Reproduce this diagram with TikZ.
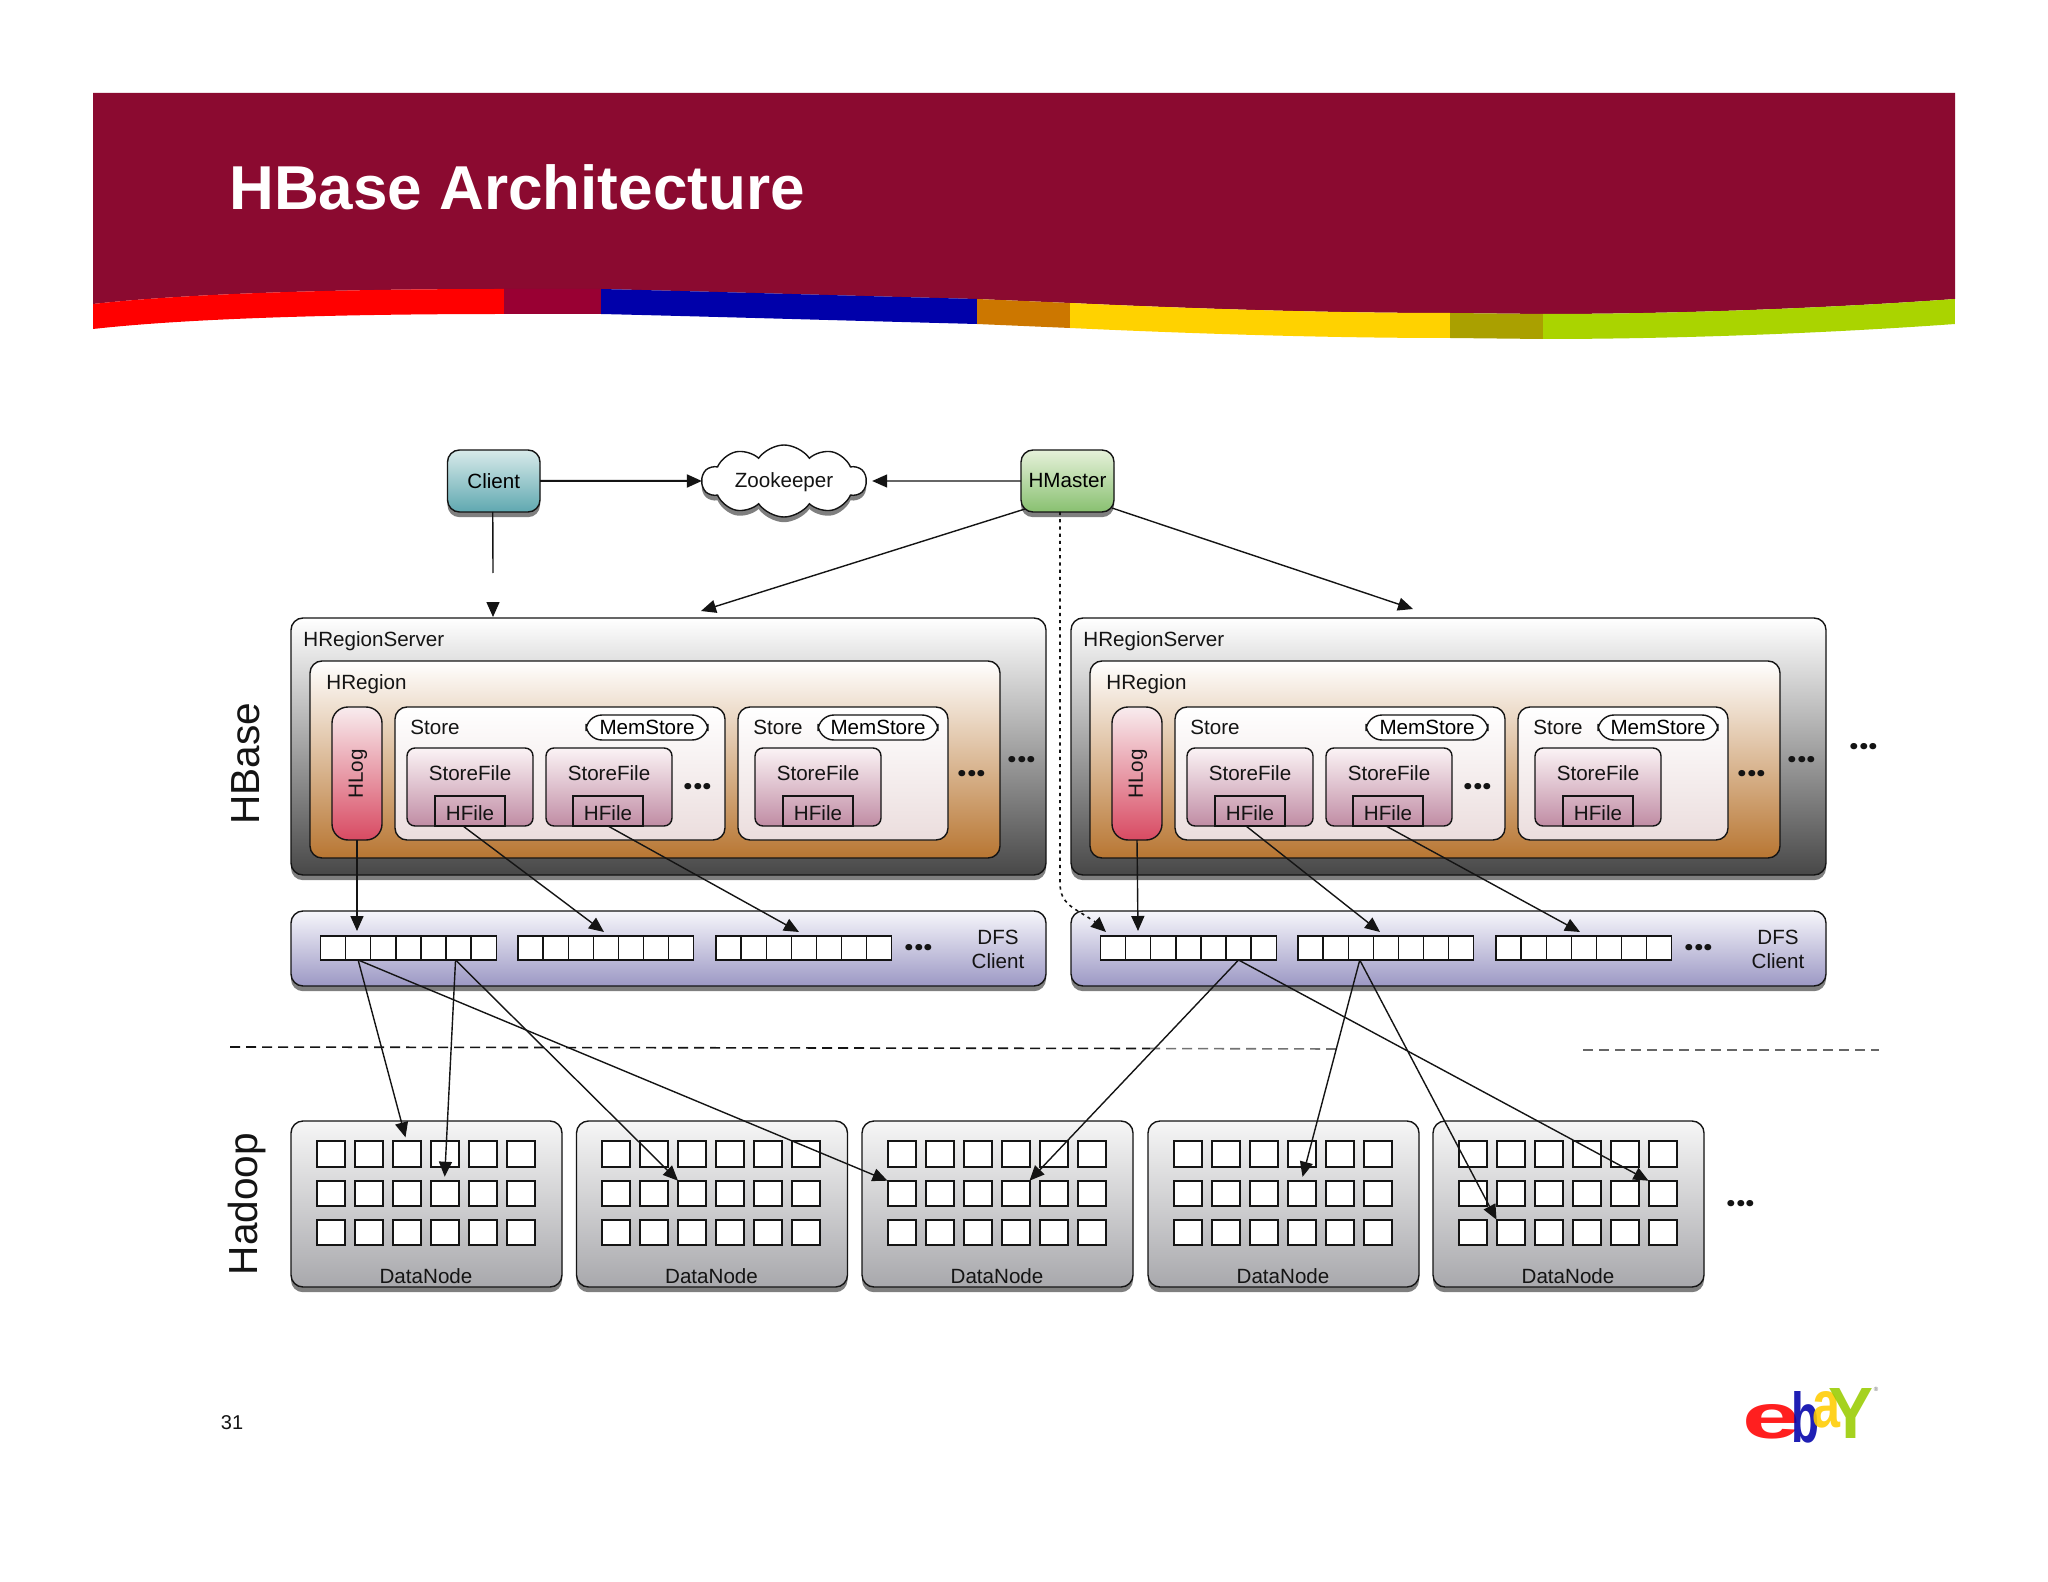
\documentclass[tikz,border=0pt]{standalone}
\usepackage{fontspec}
\usepackage{graphicx}
\setmainfont{Liberation Sans}
\newfontfamily\dotfont{Poppins}
\usetikzlibrary{arrows.meta,shadows,shapes.symbols}
\definecolor{banner}{HTML}{8B0A30}
\definecolor{inkc}{HTML}{141414}
\definecolor{wmag}{HTML}{990033}
\definecolor{wblue}{HTML}{0000AA}
\definecolor{worange}{HTML}{CC7700}
\definecolor{wyellow}{HTML}{FFD200}
\definecolor{wolive}{HTML}{AAA000}
\definecolor{wgreen}{HTML}{AAD400}
\definecolor{logoy}{HTML}{FFCC00}
\definecolor{logog}{HTML}{99CC00}
\definecolor{ctop}{HTML}{D8EAEA}\definecolor{cbot}{HTML}{5FA8B0}
\definecolor{mtop}{HTML}{E6F1DA}\definecolor{mbot}{HTML}{88C070}
\definecolor{ltop}{HTML}{F8ECEE}\definecolor{lbot}{HTML}{D84A62}
\definecolor{ftop}{HTML}{FBF3F5}\definecolor{fbot}{HTML}{C08CA4}
\definecolor{stbot}{HTML}{EBDDDD}
\definecolor{rbot}{HTML}{B87632}
\definecolor{dfstop}{HTML}{F6F6FB}\definecolor{dfsbot}{HTML}{9C98C4}
\definecolor{dntop}{HTML}{F6F6F6}\definecolor{dnbot}{HTML}{A8A8AC}
\newcommand{\rbox}[7]{%
  \pgfmathsetmacro\boxw{(#5-#3)*0.5}\pgfmathsetmacro\boxh{(#6-#4)*0.5}%
  \node[#2,minimum width=\boxw pt,minimum height=\boxh pt] (#1) at ({(#3+#5)/2},{(#4+#6)/2}) {#7};}
\tikzset{
  base/.style={draw=inkc,inner sep=0pt,outer sep=0pt,line width=0.7pt,font=\fontsize{10.3}{12}\selectfont},
  shade/.style={drop shadow={shadow xshift=0pt,shadow yshift=-2.6pt,fill=black,opacity=.5}},
  server/.style={base,rounded corners=6pt,shade,top color=white,middle color=black!32,bottom color=black!72},
  region/.style={base,rounded corners=6pt,top color=white,bottom color=rbot},
  storebox/.style={base,rounded corners=6pt,top color=white,bottom color=stbot},
  hlogbox/.style={base,rounded corners=8pt,top color=ltop,bottom color=lbot},
  filebox/.style={base,rounded corners=4pt,top color=ftop,bottom color=fbot},
  hfilebox/.style={base},
  memstore/.style={base,rounded corners=8pt,fill=white},
  dfs/.style={base,rounded corners=6pt,shade,top color=dfstop,bottom color=dfsbot},
  cellb/.style={base,fill=white,minimum width=12.55pt,minimum height=12pt},
  datanode/.style={base,rounded corners=6pt,shade,top color=dntop,bottom color=dnbot},
  cellc/.style={base,fill=white,line width=1pt,minimum width=14pt,minimum height=12.8pt},
  client/.style={base,rounded corners=6pt,shade,top color=ctop,bottom color=cbot},
  master/.style={base,rounded corners=6pt,shade,top color=mtop,bottom color=mbot},
  zk/.style={base,cloud,cloud puffs=10,cloud puff arc=110,aspect=2.2,fill=white,minimum width=82pt,minimum height=36pt,shade},
  lbl/.style={font=\fontsize{10.3}{12}\selectfont,inner sep=0pt,text=inkc},
  lbll/.style={lbl,anchor=west},
  side/.style={font=\fontsize{20.3}{24}\selectfont,inner sep=0pt,rotate=90,text=inkc},
  dots/.style={font=\dotfont\bfseries\fontsize{17}{17}\selectfont,inner sep=0pt,text=inkc},
  conn/.style={draw=inkc,line width=0.7pt,-{Triangle[length=7.5pt,width=6.5pt]}},
  plainline/.style={draw=inkc,line width=0.7pt},
  splitline/.style={line width=0.8pt,dash pattern=on 5pt off 3pt},
  logot/.style={inner sep=0pt,font=\bfseries,text opacity=.88}
}
\begin{document}
\begin{tikzpicture}[x=0.5pt,y=-0.5pt]
\useasboundingbox (0,0) rectangle (2048,1582);
\fill[white] (0,0) rectangle (2048,1582);
% banner
\fill[banner] (93,93) -- (1955,93) -- (1955,299)
  .. controls (1830,308) and (1680,314) .. (1543,314) -- (1450,313)
  .. controls (1330,313) and (1200,309) .. (1070,303) -- (977,299)
  .. controls (860,296) and (725,292) .. (601,289) -- (504,289)
  .. controls (370,289) and (200,292) .. (93,304) -- cycle;
\begin{scope}
\clip (93,304) .. controls (200,292) and (370,289) .. (504,289) -- (601,289)
  .. controls (725,292) and (860,296) .. (977,299) -- (1070,303)
  .. controls (1200,309) and (1330,313) .. (1450,313) -- (1543,314)
  .. controls (1680,314) and (1830,308) .. (1955,299) -- (1955,324)
  .. controls (1830,333) and (1680,339) .. (1543,339) -- (1450,338)
  .. controls (1330,338) and (1200,334) .. (1070,328) -- (977,324)
  .. controls (860,321) and (725,317) .. (601,314) -- (504,314)
  .. controls (370,314) and (200,317) .. (93,329) -- cycle;
\fill[red] (93,280) rectangle (504,345);
\fill[wmag] (504,280) rectangle (601,345);
\fill[wblue] (601,280) rectangle (977,345);
\fill[worange] (977,280) rectangle (1070,345);
\fill[wyellow] (1070,280) rectangle (1450,345);
\fill[wolive] (1450,280) rectangle (1543,345);
\fill[wgreen] (1543,280) rectangle (1955,345);
\end{scope}
\node[anchor=base west,inner sep=0pt,text=white,font=\bfseries\fontsize{31}{36}\selectfont] (title) at (229,210) {HBase Architecture};
% side labels
\node[side] (hbaselabel) at (246,764) {HBase};
\node[side] (hadooplabel) at (247,1204) {Hadoop};
% top
\rbox{client}{client}{447.5}{450}{540}{512}{Client}
\rbox{hmaster}{master}{1021}{450}{1114}{512}{HMaster}
\node[zk] (zookeeper) at (784,481) {};
\node[lbl] (zklabel) at (784,482) {Zookeeper};
% servers
\foreach \s/\o in {1/0,2/390}{
\begin{scope}[xshift=\o pt]
\rbox{hrs\s}{server}{291}{618}{1046}{875}{}
\node[lbll] (hrsl\s) at (303,641) {HRegionServer};
\rbox{hreg\s}{region}{310}{661}{1000}{858}{}
\node[lbll] (hregl\s) at (326,684) {HRegion};
\rbox{hlog\s}{hlogbox}{332}{707}{382}{840}{}
\node[lbl,rotate=90] (hlogl\s) at (358,774) {HLog};
\rbox{sa\s}{storebox}{395}{707}{725}{840}{}
\node[lbll] (sal\s) at (410,727) {Store};
\rbox{ma\s}{memstore}{586}{715}{708}{740}{MemStore}
\rbox{fa\s}{filebox}{407}{748}{533}{826}{}
\node[lbl] (fal\s) at (470,773) {StoreFile};
\rbox{ha\s}{hfilebox}{435}{796}{505}{826}{}
\node[lbl] (hal\s) at (470,813) {HFile};
\rbox{fb\s}{filebox}{546}{748}{672}{826}{}
\node[lbl] (fbl\s) at (609,773) {StoreFile};
\rbox{hb\s}{hfilebox}{573}{796}{643}{826}{}
\node[lbl] (hbl\s) at (608,813) {HFile};
\node[dots] (da\s) at (698,787) {...};
\rbox{sb\s}{storebox}{738}{707}{948}{840}{}
\node[lbll] (sbl\s) at (753,727) {Store};
\rbox{mb\s}{memstore}{818}{715}{938}{740}{MemStore}
\rbox{fc\s}{filebox}{755}{748}{881}{826}{}
\node[lbl] (fcl\s) at (818,773) {StoreFile};
\rbox{hc\s}{hfilebox}{783}{796}{853}{826}{}
\node[lbl] (hcl\s) at (818,813) {HFile};
\node[dots] (db\s) at (972,774) {...};
\node[dots] (dc\s) at (1022,760) {...};
% DFS
\rbox{dfs\s}{dfs}{291}{911}{1046}{986}{}
\foreach \r/\rx in {1/320.5,2/518,3/716}{
  \foreach \i in {1,...,7}{
    \pgfmathsetmacro\cx{\rx+12.55+25.1*(\i-1)}
    \node[cellb] (b\s r\r c\i) at (\cx,948) {};
  }
}
\node[dots] (dd\s) at (919,948) {...};
\node[lbl] (dfsl\s) at (998,937) {DFS};
\node[lbl] (dfsm\s) at (998,961) {Client};
\end{scope}
}
\node[dots] (dothrs) at (1864,747) {...};
% datanodes
\foreach \n/\o in {1/0,2/285.5,3/571,4/857,5/1142}{
  \pgfmathsetmacro\xa{291+\o}\pgfmathsetmacro\xb{562+\o}
  \rbox{dn\n}{datanode}{\xa}{1121}{\xb}{1287}{}
  \pgfmathsetmacro\tx{426+\o}
  \node[lbl] (dnl\n) at (\tx,1276) {DataNode};
  \foreach \r/\ry in {1/1154,2/1193.5,3/1232.5}{
    \foreach \c in {1,...,6}{
      \pgfmathsetmacro\cx{330.5+38*(\c-1)+\o}
      \node[cellc] (d\n r\r c\c) at (\cx,\ry) {};
    }
  }
}
\node[dots] (dotdn) at (1741,1204) {...};
% split lines
\coordinate (sp1) at (230,1047);
\coordinate (sp2) at (1150,1048.5);
\coordinate (sp3) at (1337,1049);
\coordinate (sp4) at (1583,1050);
\coordinate (sp5) at (1879,1050);
\draw[splitline,inkc] (sp1) -- (sp2);
\draw[splitline,black!55] (sp2) -- (sp3);
\draw[splitline,black!60] (sp4) -- (sp5);
% top connectors
\draw[conn,line width=1pt] (client.east) -- (zookeeper.west);
\draw[conn] (hmaster.west) -- ([xshift=3pt]zookeeper.east);
\coordinate (cg1) at (493,573);
\coordinate (cg2) at (493,602);
\coordinate (cg3) at (493,617);
\draw[plainline] (client.south) ++(-1,0) -- (cg1);
\draw[conn] (cg2) -- (cg3);
\coordinate (ma1) at (1025,509);
\coordinate (ma2) at (701,611);
\coordinate (ma3) at (1112,508);
\coordinate (ma4) at (1413,609);
\coordinate (dot1) at (1060,512);
\coordinate (dot2) at (1060,883);
\coordinate (dot3) at (1106,932);
\draw[conn] (ma1) -- (ma2);
\draw[conn] (ma3) -- (ma4);
\draw[draw=inkc,line width=0.8pt,dash pattern=on 1.6pt off 2pt] (dot1) -- (dot2) .. controls (1060,905) and (1075,908) .. (1092,920);
\coordinate (dot2b) at (1094,921);
\draw[conn] (dot2b) -- (dot3);
% server connectors
\coordinate (l1) at (357,931); \coordinate (l2) at (1138,931);
\coordinate (q1) at (604,932); \coordinate (q2) at (799,932);
\coordinate (q3) at (1380,932); \coordinate (q4) at (1580,932);
\draw[conn] (hlog1.south) -- (l1);
\draw[conn] (hlog2.south) -- (l2);
\draw[conn] ([xshift=-3.5pt]ha1.south) -- (q1);
\draw[conn] (hb1.south) -- (q2);
\draw[conn] ([xshift=-2pt]ha2.south) -- (q3);
\draw[conn] ([xshift=-1pt]hb2.south) -- (q4);
% dfs to datanodes
\draw[conn,shorten >=2pt] (b1r1c2.south) -- (d1r1c3.north);
\draw[conn] (b1r1c2.south) -- (d3r2c1.north west);
\draw[conn,shorten >=2pt] (b1r1c6.south) ++(-3,0) -- (d1r2c4.north);
\draw[conn] (b1r1c6.south) ++(-3,0) -- (d2r2c3.north west);
\draw[conn] (b2r1c6.south) -- (d3r2c4.north east);
\draw[conn] (b2r1c6.south) -- (d5r2c6.north west);
\draw[conn,shorten >=2pt] (b2r2c3.south) ++(-1,0) -- (d4r2c4.north);
\draw[conn] (b2r2c3.south) ++(-1,0) -- (d5r3c2.north west);
% page number and logo
\node[inner sep=0pt,font=\fontsize{10}{12}\selectfont,text=inkc] (pagenum) at (232,1423) {31};
\node[logot,text=red] (loge) at (1771,1421.5) {\resizebox{29pt}{17pt}{e}};
\node[logot,text=wblue] (logb) at (1805,1417.5) {\resizebox{14pt}{25.5pt}{b}};
\node[logot,text=logoy] (loga) at (1826.5,1410) {\resizebox{14pt}{18pt}{a}};
\node[logot,text=logog] (logy) at (1850.5,1413) {\resizebox{22.5pt}{25pt}{Y}};
\node[inner sep=0pt,font=\fontsize{3}{3}\selectfont,text=black!60] (logr) at (1876,1389) {®};
\end{tikzpicture}
\end{document}
